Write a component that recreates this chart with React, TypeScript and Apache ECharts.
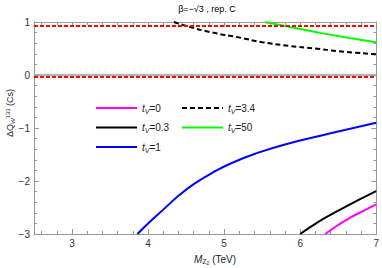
import React, { useEffect, useRef } from "react";
import * as echarts from "echarts";

const xMajor = [3, 4, 5, 6, 7];
const xMinor = [2.6, 2.8, 3.2, 3.4, 3.6, 3.8, 4.2, 4.4, 4.6, 4.8, 5.2, 5.4, 5.6, 5.8, 6.2, 6.4, 6.6, 6.8];

const x_t0 = [6.33, 6.5, 6.67, 6.85, 7.0];
const y_t0 = [-3.0, -2.83, -2.68, -2.55, -2.44];
const x_t03 = [6.0, 6.25, 6.5, 6.75, 7.0];
const y_t03 = [-3.0, -2.76, -2.56, -2.37, -2.19];
const x_t1 = [3.86, 4.0, 4.2, 4.4, 4.6, 4.85, 5.1, 5.4, 5.8, 6.4, 7.0];
const y_t1 = [-3.0, -2.8, -2.54, -2.28, -2.06, -1.84, -1.66, -1.49, -1.31, -1.1, -0.9];
const x_t34 = [4.34, 4.54, 4.85, 5.19, 5.5, 5.85, 6.2, 6.5, 7.0];
const y_t34 = [1.0, 0.91, 0.8, 0.71, 0.62, 0.55, 0.5, 0.45, 0.39];
const x_t50 = [5.54, 5.85, 6.28, 6.65, 7.0];
const y_t50 = [1.0, 0.91, 0.79, 0.7, 0.62];

const redLines = [0.92, -0.03];
const names = ["0", "0.3", "1", "3.4", "50"];

const zip = (xs: number[], ys: number[]) => xs.map((x, i) => [x, ys[i]]);

export default function App() {
  const ref = useRef<HTMLDivElement>(null);
  useEffect(() => {
    const chart = echarts.init(ref.current!, null, { renderer: "svg" });
    const gray = "#999";
    const font = "Liberation Sans, Arial, sans-serif";
    const rich = {
      i: { fontStyle: "italic", fontSize: 10, fontFamily: font, color: "#222" },
      s: { fontStyle: "italic", fontSize: 7, fontFamily: font, color: "#222", padding: [6, 0, 0, 0] },
      n: { fontSize: 10, fontFamily: font, color: "#222" },
    };
    const fmt = (name: string) => `{i|t}{s|V}{n|=${name}}`;
    const xBase = (pos: string, vals: number[], len: number, label: boolean, line: boolean) => ({
      type: "value",
      position: pos,
      min: 2.5,
      max: 7,
      axisLine: { show: line, onZero: false, lineStyle: { color: gray, width: 1 } },
      axisTick: { show: true, inside: true, length: len, customValues: vals, lineStyle: { color: gray } },
      axisLabel: {
        show: label,
        customValues: vals,
        margin: 4,
        fontSize: 10,
        fontFamily: font,
        color: "#333",
      },
      splitLine: { show: false },
    });
    const yBase = (pos: string, label: boolean) => ({
      type: "value",
      position: pos,
      min: -3,
      max: 1,
      interval: 1,
      axisLine: { show: true, onZero: false, lineStyle: { color: gray, width: 1 } },
      axisTick: { show: true, inside: true, length: 5, lineStyle: { color: gray } },
      minorTick: { show: true, splitNumber: 5, length: 3, lineStyle: { color: gray } },
      axisLabel: {
        show: label,
        margin: 4,
        fontSize: 10,
        fontFamily: font,
        color: "#333",
        formatter: (v: number) => (v < 0 ? "\u2212" + Math.abs(v) : String(v)),
      },
      splitLine: { show: false },
    });
    const mk = (name: string, xs: number[], ys: number[], color: string, type: any, extra?: any) => ({
      name,
      type: "line",
      xAxisIndex: 0,
      yAxisIndex: 0,
      data: zip(xs, ys),
      symbol: "none",
      smooth: 0.5,
      clip: true,
      lineStyle: { color, width: 2, type },
      itemStyle: { color },
      ...extra,
    });
    const legendBase = {
      orient: "vertical",
      top: 98,
      itemWidth: 41,
      itemHeight: 12,
      itemGap: 8,
      formatter: fmt,
      textStyle: { rich },
      itemStyle: { opacity: 0 },
    };
    chart.setOption({
      animation: false,
      grid: { left: 34, right: 3, top: 22, bottom: 34 },
      xAxis: [
        xBase("bottom", xMajor, 5, true, true),
        xBase("bottom", xMinor, 3, false, false),
        xBase("top", xMajor, 5, false, true),
        xBase("top", xMinor, 3, false, false),
      ],
      yAxis: [yBase("left", true), yBase("right", false)],
      legend: [
        { ...legendBase, data: names.slice(0, 3), left: 90 },
        { ...legendBase, data: names.slice(3), left: 176 },
      ],
      graphic: [
        {
          type: "text",
          x: 207,
          y: 9,
          z: 100,
          style: {
            text: "\u03b2=\u2212\u221a3 , rep. C",
            font: `9px ${font}`,
            fill: "#000",
            align: "center",
            verticalAlign: "middle",
          },
        },
        {
          type: "text",
          x: 215,
          y: 259,
          style: {
            text: "{m|M}{z|Z}{t|2}{n| (TeV)}",
            align: "center",
            verticalAlign: "middle",
            rich: {
              m: { fontStyle: "italic", fontSize: 10, fontFamily: font, fill: "#222" },
              z: { fontSize: 7, fontFamily: font, fill: "#222", padding: [4, 0, 0, 0] },
              t: { fontSize: 5, fontFamily: font, fill: "#222", padding: [7, 0, 0, 0] },
              n: { fontSize: 10, fontFamily: font, fill: "#222" },
            },
          },
        },
        {
          type: "text",
          x: 10,
          y: 113,
          rotation: Math.PI / 2,
          style: {
            text: "{d|\u0394Q}{w|W}{c|133}{n| (Cs)}",
            align: "center",
            verticalAlign: "middle",
            rich: {
              d: { fontSize: 9, fontFamily: font, fill: "#222" },
              w: { fontStyle: "italic", fontSize: 6, fontFamily: font, fill: "#222", padding: [5, 0, 0, 0] },
              c: { fontSize: 6, fontFamily: font, fill: "#222", padding: [0, 0, 5, 0] },
              n: { fontSize: 9, fontFamily: font, fill: "#222" },
            },
          },
        },
      ],
      series: [
        mk(names[0], x_t0, y_t0, "#ff00ff", "solid", {
          markLine: {
            silent: true,
            symbol: "none",
            label: { show: false },
            data: [
              { yAxis: 0, lineStyle: { color: gray, width: 1.5, type: "solid" } },
              ...redLines.map((v) => ({
                yAxis: v,
                lineStyle: { color: "#ff0000", width: 2, type: [4, 2] },
              })),
            ],
          },
        }),
        mk(names[1], x_t03, y_t03, "#000000", "solid"),
        mk(names[2], x_t1, y_t1, "#0000ff", "solid"),
        mk(names[3], x_t34, y_t34, "#000000", [5, 3]),
        mk(names[4], x_t50, y_t50, "#00ff00", "solid"),
      ],
    });
    return () => chart.dispose();
  }, []);
  return (
    <div
      ref={ref}
      style={{ position: "absolute", left: 0, top: 0, width: 382, height: 268 }}
    />
  );
}
